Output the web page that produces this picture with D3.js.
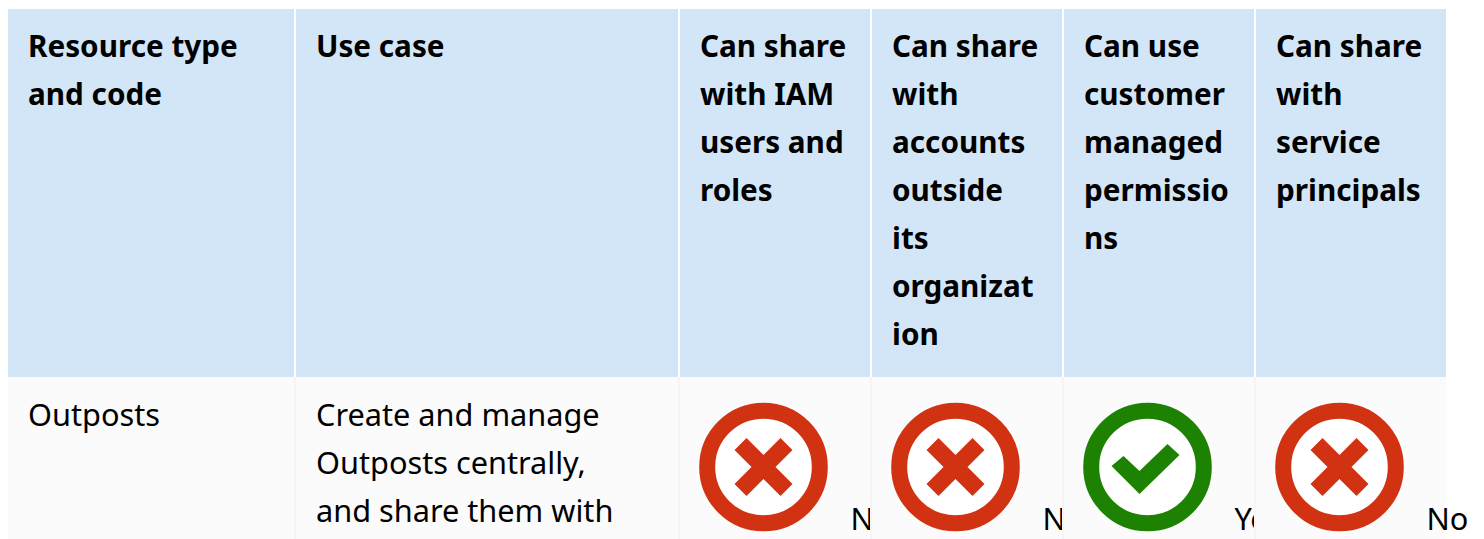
<!DOCTYPE html>
<html>
<head>
<meta charset="utf-8">
<script src="https://d3js.org/d3.v7.min.js"></script>
<style>
html,body{margin:0;padding:0;background:#fff}
svg{display:block}
text{font-family:"Noto Sans",sans-serif;font-size:30.7px;fill:#000}
text.head{font-size:29.7px;font-weight:700}
</style>
</head>
<body>
<script>
// table content
var columns=["type","use","iam","outside","managed","principals"]
var headerLines=[
  ["Resource type","and code"],
  ["Use case"],
  ["Can share","with IAM","users and","roles"],
  ["Can share","with","accounts","outside","its","organizat","ion"],
  ["Can use","customer","managed","permissio","ns"],
  ["Can share","with","service","principals"]
]
var rowLines=[
  ["Outposts"],
  ["Create and manage","Outposts centrally,","and share them with"]
]
var flags=["No","No","Yes","No"]
var flagColumns=["iam","outside","managed","principals"]

var screen={width:1484,height:539}
var table={top:9,split:377,gap:2}
var edges=[8,296,680,872,1064,1256,1448]
var lineHeight=48
var pad=20

var xScale=d3.scaleOrdinal().domain(columns).range(edges)
var widthOf=function(c){return edges[columns.indexOf(c)+1]-xScale(c)-table.gap}

var svg=d3.select("body").append("svg").attr("width",screen.width).attr("height",screen.height)

svg.append("defs").selectAll("clipPath")
    .data(columns)
    .enter()
    .append("clipPath")
    .attr("id",function(d){return "clip-"+d})
    .append("rect")
    .attr("x",function(d){return xScale(d)})
    .attr("y",table.split)
    .attr("width",function(d){return widthOf(d)})
    .attr("height",screen.height-table.split)

// header cells
svg.append("g").selectAll("rect")
   .data(columns)
   .enter()
   .append("rect")
   .attr("x",function(d){return xScale(d)})
   .attr("y",table.top)
   .attr("width",function(d){return widthOf(d)})
   .attr("height",table.split-table.top)
   .attr("fill","#d3e6f7")

// body cells
svg.append("g").selectAll("rect")
   .data(columns)
   .enter()
   .append("rect")
   .attr("x",function(d){return xScale(d)})
   .attr("y",table.split)
   .attr("width",function(d){return widthOf(d)+(d=="principals"?0:table.gap)})
   .attr("height",screen.height-table.split)
   .attr("fill","#fbfbfb")
svg.append("g").selectAll("line")
   .data(columns.slice(1))
   .enter()
   .append("line")
   .attr("x1",function(d){return xScale(d)-1})
   .attr("x2",function(d){return xScale(d)-1})
   .attr("y1",table.split)
   .attr("y2",screen.height)
   .style("stroke","#f5f5f5")
   .style("stroke-width",2)

// header text
var heads=svg.append("g").selectAll("g")
   .data(columns)
   .enter()
   .append("g")
heads.selectAll("text")
   .data(function(d,i){return headerLines[i].map(function(t){return {t:t,c:d}})})
   .enter()
   .append("text")
   .attr("class","head")
   .attr("x",function(d){return xScale(d.c)+pad})
   .attr("y",function(d,i){return 57+i*lineHeight})
   .text(function(d){return d.t})

// first two body cells
var rows=svg.append("g").selectAll("g")
   .data(rowLines)
   .enter()
   .append("g")
rows.selectAll("text")
   .data(function(d,i){return d.map(function(t){return {t:t,c:columns[i]}})})
   .enter()
   .append("text")
   .attr("x",function(d){return xScale(d.c)+pad})
   .attr("y",function(d,i){return 426+i*lineHeight})
   .text(function(d){return d.t})

// status icons
var iconX=83.5,iconY=467,iconR=56.3
var icons=svg.append("g").selectAll("g")
   .data(flags)
   .enter()
   .append("g")
   .attr("transform",function(d,i){
     return "translate("+(xScale(flagColumns[i])+iconX)+","+iconY+")"})
icons.append("circle")
   .attr("r",iconR)
   .attr("fill","#fff")
   .attr("stroke",function(d){return d=="Yes"?"#1d8102":"#d13212"})
   .attr("stroke-width",16)
icons.append("path")
   .attr("d",function(d){
     return d=="Yes"
       ?"M-36,-1L-24,-11L-8,4L20,-23L32,-12L-8,27Z"
       :"M-29,-17L-17,-29L0,-12L17,-29L29,-17L12,0L29,17L17,29L0,12L-17,29L-29,17L-12,0Z"})
   .attr("fill",function(d){return d=="Yes"?"#1d8102":"#d13212"})

// Yes/No labels run past the cell and get cut off
svg.append("g").selectAll("text")
   .data(flags)
   .enter()
   .append("text")
   .attr("x",function(d,i){return xScale(flagColumns[i])+170.5})
   .attr("y",530)
   .attr("clip-path",function(d,i){return i==3?null:"url(#clip-"+flagColumns[i]+")"})
   .text(function(d){return d})
</script>
</body>
</html>
